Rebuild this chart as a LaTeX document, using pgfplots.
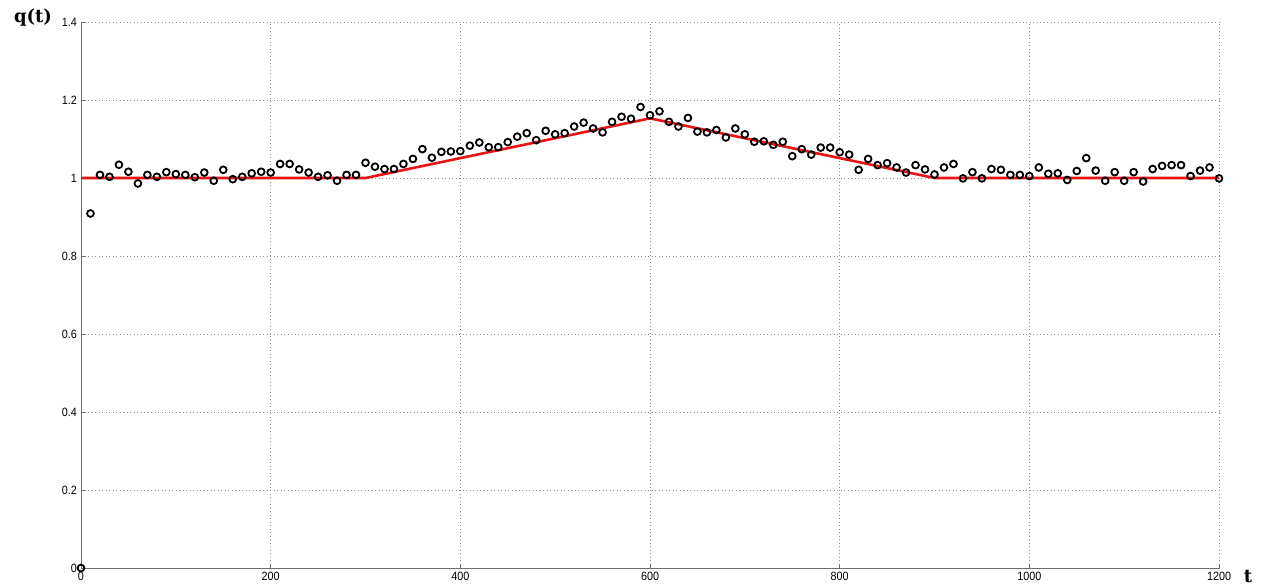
\documentclass[border=0pt]{standalone}
\usepackage{pgfplots}
\pgfplotsset{compat=1.18}
\usepackage{pgfplotstable}
\usepackage{fontspec}
\setmainfont{Liberation Sans}
\newfontfamily\lblfont{DejaVu Serif}
\definecolor{axgray}{RGB}{110,110,110}
\definecolor{gridgray}{RGB}{140,140,140}
\definecolor{lred}{RGB}{232,20,20}
\pgfplotstableread{
t q
0 0
10 0.909
20 1.008
30 1.003
40 1.034
50 1.016
60 0.986
70 1.008
80 1.003
90 1.015
100 1.010
110 1.008
120 1.002
130 1.014
140 0.993
150 1.021
160 0.997
170 1.003
180 1.012
190 1.016
200 1.014
210 1.036
220 1.036
230 1.022
240 1.014
250 1.003
260 1.007
270 0.993
280 1.008
290 1.008
300 1.039
310 1.029
320 1.023
330 1.023
340 1.036
350 1.049
360 1.074
370 1.052
380 1.067
390 1.068
400 1.069
410 1.083
420 1.091
430 1.079
440 1.079
450 1.092
460 1.106
470 1.115
480 1.097
490 1.121
500 1.112
510 1.115
520 1.132
530 1.142
540 1.127
550 1.117
560 1.144
570 1.157
580 1.152
590 1.182
600 1.161
610 1.171
620 1.144
630 1.132
640 1.154
650 1.119
660 1.117
670 1.123
680 1.104
690 1.127
700 1.112
710 1.093
720 1.094
730 1.085
740 1.093
750 1.056
760 1.074
770 1.060
780 1.078
790 1.078
800 1.066
810 1.060
820 1.021
830 1.049
840 1.033
850 1.038
860 1.027
870 1.014
880 1.033
890 1.022
900 1.009
910 1.027
920 1.036
930 0.999
940 1.015
950 0.999
960 1.023
970 1.021
980 1.008
990 1.008
1000 1.005
1010 1.027
1020 1.011
1030 1.012
1040 0.995
1050 1.018
1060 1.051
1070 1.019
1080 0.993
1090 1.015
1100 0.993
1110 1.015
1120 0.991
1130 1.023
1140 1.031
1150 1.033
1160 1.033
1170 1.005
1180 1.019
1190 1.027
1200 0.999
}\qdata
\pgfplotstableread{
t q
0 1
300 1
600 1.153
900 1
1200 1
}\modeldata
\begin{document}
\begin{tikzpicture}
\useasboundingbox (0,0) rectangle (1263pt,587pt);
\begin{axis}[
  at={(81pt,19pt)}, anchor=south west,
  scale only axis, width=1138pt, height=546pt,
  xmin=0, xmax=1200, ymin=0, ymax=1.4,
  xtick={0,200,...,1200},
  ytick={0,0.2,0.4,0.6,0.8,1,1.2,1.4},
  yticklabels={0,0.2,0.4,0.6,0.8,1,1.2,1.4},
  xticklabels={0,200,400,600,800,1000,1200},
  axis lines=left,
  axis line style={-, axgray, line width=1pt},
  tick style={axgray, line width=0.6pt},
  major tick length=4pt,
  tick align=inside,
  grid=major,
  major grid style={gridgray, line width=0.8pt, dash pattern=on 1pt off 2.5pt},
  tick label style={font=\fontsize{12}{13}\selectfont, black, xscale=0.9},
  xticklabel style={yshift=-1pt},
  yticklabel style={xshift=-1pt},
  clip=false,
]
\addplot[lred, line width=2.6pt] table[x=t,y=q] {\modeldata};
\addplot[only marks, mark=o, mark size=3.4pt, line width=1.8pt, black] table[x=t,y=q] {\qdata};
\end{axis}
\node[font=\lblfont\bfseries\fontsize{18}{20}\selectfont, inner sep=0pt] at (33pt,569pt) {q(t)};
\node[font=\lblfont\bfseries\fontsize{18}{20}\selectfont, inner sep=0pt] at (1248pt,10pt) {t};
\end{tikzpicture}
\end{document}
